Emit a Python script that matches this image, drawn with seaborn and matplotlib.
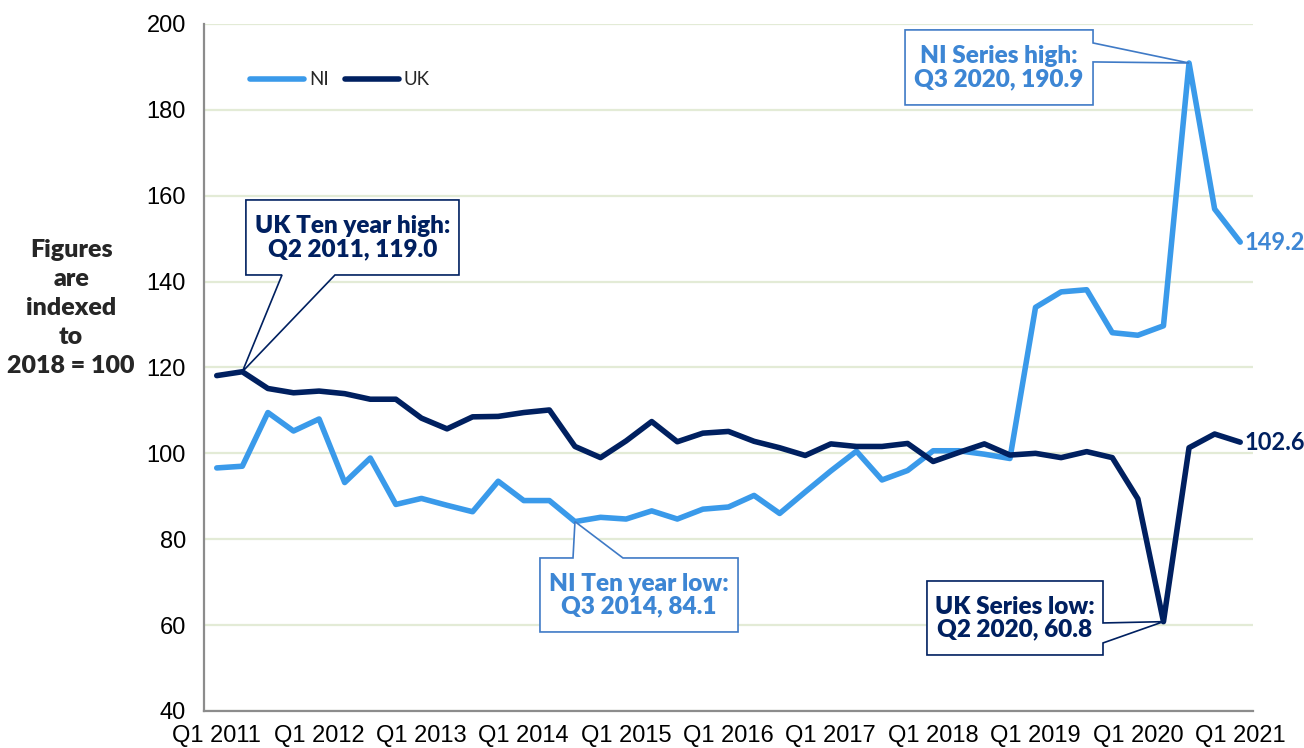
"""
House price style index chart: NI vs UK, quarterly, indexed to 2018 = 100.
Rebuilt with seaborn lineplot + matplotlib callout boxes.
"""

import numpy as np
import pandas as pd
import matplotlib
matplotlib.use("Agg")
import matplotlib.pyplot as plt
import seaborn as sns
from matplotlib.patches import Polygon

# ─────────────────────────────────────────────────────────────────────────────
QUARTERS = [f"Q{q} {y}" for y in range(2011, 2022) for q in (1, 2, 3, 4)][:41]

NI = [96.6, 97.0, 109.5, 105.2, 108.0, 93.2, 98.9, 88.1, 89.5, 87.9,
      86.4, 93.5, 89.0, 89.0, 84.1, 85.1, 84.7, 86.6, 84.7, 87.0,
      87.5, 90.2, 86.0, 91.0, 95.9, 100.5, 93.8, 96.0, 100.6, 100.6,
      99.8, 98.8, 134.0, 137.6, 138.1, 128.1, 127.5, 129.7, 190.9, 156.9,
      149.2]
UK = [118.1, 119.0, 115.1, 114.1, 114.5, 113.9, 112.6, 112.6, 108.2, 105.7,
      108.5, 108.6, 109.5, 110.1, 101.6, 99.0, 102.9, 107.4, 102.7, 104.7,
      105.1, 102.8, 101.3, 99.5, 102.2, 101.6, 101.6, 102.3, 98.1, 100.2,
      102.2, 99.6, 100.0, 99.0, 100.4, 99.0, 89.4, 60.8, 101.3, 104.5,
      102.6]

Y_TICKS = [40, 60, 80, 100, 120, 140, 160, 180, 200]
X_LABEL_EVERY = 4

NI_COL = "#3A9AEA"
UK_COL = "#002060"
NI_TEXT = "#3D86D4"
NI_EDGE = "#3F7AC6"
GRID_COL = "#E3EBD6"
AXIS_COL = "#8C8C8C"

# callouts: text, series, point index, box (x0, y0, x1, y1) in axes fraction,
# side of the box the tail leaves from, tail base along that side
CALLOUTS = [
    ("UK Ten year high:\nQ2 2011, 119.0", "UK", 1,
     (0.0400, 0.6346, 0.2431, 0.7438), "bottom", (0.0744, 0.1249)),
    ("NI Ten year low:\nQ3 2014, 84.1", "NI", 14,
     (0.3203, 0.1150, 0.5091, 0.2227), "top", (0.3518, 0.3994)),
    ("NI Series high:\nQ3 2020, 190.9", "NI", 38,
     (0.6683, 0.8821, 0.8475, 0.9913), "right", (0.9723, 0.9447)),
    ("UK Series low:\nQ2 2020, 60.8", "UK", 37,
     (0.6892, 0.0815, 0.8570, 0.1892), "right", (0.1281, 0.0990)),
]


def callout(ax, text, apex, box, side, base, txt_col, edge_col):
    """Excel-style rectangular callout: one closed outline with a wedge tail."""
    x0, y0, x1, y1 = box
    a, b = base
    verts = [(x0, y1)]
    if side == "top":
        verts += [(a, y1), apex, (b, y1)]
    verts += [(x1, y1)]
    if side == "right":
        verts += [(x1, a), apex, (x1, b)]
    verts += [(x1, y0)]
    if side == "bottom":
        verts += [(b, y0), apex, (a, y0)]
    verts += [(x0, y0)]
    ax.add_patch(Polygon(verts, closed=True, transform=ax.transAxes,
                         facecolor="white", edgecolor=edge_col, lw=1.2,
                         zorder=6, clip_on=False))
    ax.text((x0 + x1) / 2, (y0 + y1) / 2, text, transform=ax.transAxes,
            ha="center", va="center", fontsize=17.5, fontweight="heavy",
            family=["Lato", "DejaVu Sans"], color=txt_col,
            linespacing=1.05, zorder=7)


# ─────────────────────────────────────────────────────────────────────────────
sns.set_theme(style="white")
plt.rcParams["font.family"] = ["Liberation Sans", "DejaVu Sans"]

n = len(QUARTERS)
df = pd.DataFrame({
    "idx": list(range(n)) * 2,
    "value": NI + UK,
    "series": ["NI"] * n + ["UK"] * n,
})

fig = plt.figure(figsize=(13.04, 7.48), dpi=100)
ax = fig.add_axes([0.1564, 0.0495, 0.8045, 0.9185])

sns.lineplot(data=df, x="idx", y="value", hue="series", hue_order=["NI", "UK"],
             palette={"NI": NI_COL, "UK": UK_COL}, linewidth=4, ax=ax,
             estimator=None, sort=False)
for ln in ax.lines:
    ln.set_solid_joinstyle("round")
    ln.set_solid_capstyle("round")

ax.set_xlim(-0.5, n - 0.5)
ax.set_ylim(Y_TICKS[0], Y_TICKS[-1])
ax.set_xlabel("")
ax.set_ylabel("")

# axes / ticks
ax.set_yticks(Y_TICKS)
ax.set_xticks(range(0, n, X_LABEL_EVERY))
ax.set_xticklabels(QUARTERS[::X_LABEL_EVERY])
ax.set_xticks(np.arange(-0.5, n, 1), minor=True)
ax.tick_params(axis="x", which="major", length=0, labelsize=17, pad=10,
               labelcolor="black")
ax.tick_params(axis="x", which="minor", length=6, width=1.2,
               color=AXIS_COL, direction="out")
ax.tick_params(axis="y", length=7, width=1.2, color=AXIS_COL,
               direction="out", labelsize=17, pad=6, labelcolor="black")
ax.yaxis.grid(True, color=GRID_COL, lw=1.6)
ax.xaxis.grid(False)
for s in ("top", "right"):
    ax.spines[s].set_visible(False)
for s in ("left", "bottom"):
    ax.spines[s].set_color(AXIS_COL)
    ax.spines[s].set_linewidth(1.6)

# legend
handles, labels = ax.get_legend_handles_labels()
leg = ax.legend(handles, labels, loc="center left",
                bbox_to_anchor=(0.0439, 0.9185), ncol=2, frameon=False,
                borderpad=0, borderaxespad=0, handlelength=2.9,
                handletextpad=0.25, columnspacing=0.85,
                prop={"family": "Lato", "size": 13.5})
for h in leg.legend_handles:
    h.set_linewidth(4)
    h.set_solid_capstyle("round")

# y label on the left
fig.text(0.0545, 0.588, "Figures\nare\nindexed\nto\n2018 = 100",
         ha="center", va="center", fontsize=18, fontweight="heavy",
         family=["Lato", "DejaVu Sans"], linespacing=1.38)

# end value labels
ax.annotate(f"{NI[-1]:.1f}", (n - 1, NI[-1]), xytext=(3, 0),
            textcoords="offset points", ha="left", va="center",
            fontsize=17, fontweight="bold", color=NI_TEXT,
            family=["Lato", "DejaVu Sans"], annotation_clip=False)
ax.annotate(f"{UK[-1]:.1f}", (n - 1, UK[-1]), xytext=(3, 0),
            textcoords="offset points", ha="left", va="center",
            fontsize=17, fontweight="bold", color=UK_COL,
            family=["Lato", "DejaVu Sans"], annotation_clip=False)

# callouts
series = {"NI": NI, "UK": UK}
to_axes = ax.transAxes.inverted()
for text, key, i, box, side, base in CALLOUTS:
    apex = to_axes.transform(ax.transData.transform((i, series[key][i])))
    if key == "NI":
        callout(ax, text, tuple(apex), box, side, base, NI_TEXT, NI_EDGE)
    else:
        callout(ax, text, tuple(apex), box, side, base, UK_COL, UK_COL)

fig.savefig("out.png", dpi=100)
plt.close(fig)
print("saved out.png")
